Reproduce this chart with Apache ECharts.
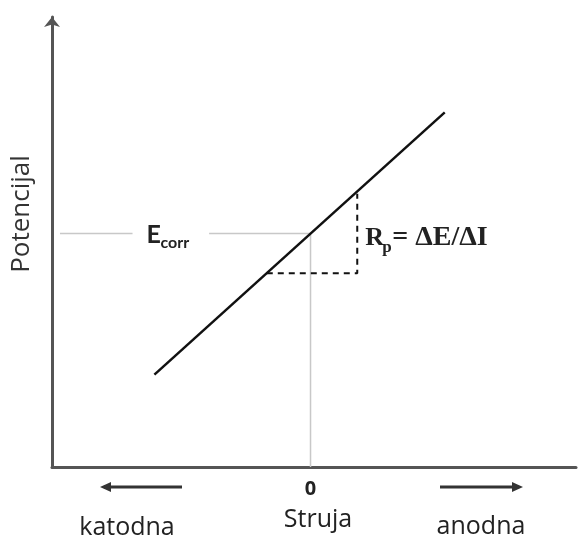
<!DOCTYPE html>
<html>
<head>
<meta charset="utf-8">
<script src="https://cdn.jsdelivr.net/npm/echarts@6/dist/echarts.min.js"></script>
<style>
  html, body { margin: 0; padding: 0; background: #fff; }
  #chart { width: 579px; height: 541px; }
</style>
</head>
<body>
<div id="chart"></div>
<script>
// schematic units: struja (x) and potencijal (y), E_corr at y = 0, I = 0 at x = 0
const xRange = [-260, 267];
const yRange = [-235, 218];
const xTickLabels = ["0"];

// polarizacijska krivulja
const curveI = [-157, 135];
const curveE = [-142, 122];

// E_corr reference lines (gray)
const ecorrLeftI = [-252, -179];
const ecorrRightI = [-102, 0];
const zeroLineE = [0, -235];

// Delta E / Delta I triangle (dashed)
const triI = [-44, 47, 47];
const triE = [-40, -40, 40];

const zip = (a, b) => a.map((v, i) => [v, b[i]]);

const chart = echarts.init(document.getElementById("chart"));

const gray = "#c8c8c8";

const option = {
  animation: false,
  grid: { left: 52, right: 0, top: 17, bottom: 74 },
  xAxis: {
    type: "value",
    min: xRange[0],
    max: xRange[1],
    interval: 260,
    axisLine: { show: true, onZero: false, lineStyle: { color: "#555", width: 3 } },
    axisTick: { show: false },
    splitLine: { show: false },
    axisLabel: {
      margin: 12,
      fontSize: 20,
      fontWeight: "bold",
      fontFamily: "Open Sans",
      color: "#222",
      formatter: v => (v === 0 ? xTickLabels[0] : "")
    },
    name: "Struja",
    nameLocation: "middle",
    nameGap: 40,
    nameTextStyle: { fontSize: 25, fontFamily: "Open Sans", color: "#222", padding: [0, 0, 0, 8] }
  },
  yAxis: {
    type: "value",
    min: yRange[0],
    max: yRange[1],
    axisLine: {
      show: true,
      onZero: false,
      symbol: ["none", "arrow"],
      symbolSize: [12, 10],
      lineStyle: { color: "#555", width: 3 }
    },
    axisTick: { show: false },
    splitLine: { show: false },
    axisLabel: { show: false }
  },
  series: [
    {
      type: "line",
      data: zip(ecorrLeftI, [0, 0]),
      symbol: "none",
      lineStyle: { color: gray, width: 1.5 },
      z: 1
    },
    {
      type: "line",
      data: zip(ecorrRightI, [0, 0]),
      symbol: "none",
      lineStyle: { color: gray, width: 1.5 },
      z: 1
    },
    {
      type: "line",
      data: zip([0, 0], zeroLineE),
      symbol: "none",
      lineStyle: { color: gray, width: 1.5 },
      z: 1
    },
    {
      type: "line",
      data: zip(triI, triE),
      symbol: "none",
      lineStyle: { color: "#111", width: 2, type: [6, 5] },
      z: 2
    },
    {
      type: "line",
      data: zip(curveI, curveE),
      symbol: "none",
      lineStyle: { color: "#111", width: 2.5 },
      z: 3
    }
  ]
};

chart.setOption(option);

const px = (x, y) => chart.convertToPixel({ gridIndex: 0 }, [x, y]);
const ec = px(-165, 0);
const rp = px(55, -5);
const axisY = px(0, yRange[0])[1];

const txt = (x, y, text, style) => ({
  type: "text",
  x, y,
  style: Object.assign({ text, fill: "#222", verticalAlign: "middle", align: "left" }, style)
});

const arrowHead = (x, y, dir) => ({
  type: "polygon",
  shape: { points: [[x, y], [x - dir * 11, y - 5], [x - dir * 11, y + 5]] },
  style: { fill: "#333" }
});

chart.setOption({
  graphic: [
    // E_corr
    txt(ec[0], ec[1] + 1, "E", { fontSize: 25, fontWeight: "bold", fontFamily: "Lato" }),
    txt(ec[0] + 14, ec[1] + 9, "corr", { fontSize: 16, fontWeight: "bold", fontFamily: "Lato" }),
    // R_p = dE/dI
    txt(rp[0], rp[1], "R", { fontSize: 26, fontWeight: "bold", fontFamily: "Liberation Serif" }),
    txt(rp[0] + 17, rp[1] + 9, "p", { fontSize: 17, fontWeight: "bold", fontFamily: "Liberation Serif" }),
    txt(rp[0] + 27, rp[1] - 1, "= \u0394E/\u0394I", { fontSize: 28, fontWeight: "bold", fontFamily: "Liberation Serif" }),
    // y axis name
    {
      type: "text",
      x: 22, y: 214,
      rotation: Math.PI / 2,
      style: { text: "Potencijal", fontSize: 26, fontFamily: "Open Sans", fill: "#333", align: "center", verticalAlign: "middle" }
    },
    // direction arrows
    { type: "line", shape: { x1: 104, y1: axisY + 20, x2: 182, y2: axisY + 20 }, style: { stroke: "#333", lineWidth: 3 } },
    arrowHead(100, axisY + 20, -1),
    { type: "line", shape: { x1: 440, y1: axisY + 20, x2: 514, y2: axisY + 20 }, style: { stroke: "#333", lineWidth: 3 } },
    arrowHead(523, axisY + 20, 1),
    txt(127, axisY + 61, "katodna", { fontSize: 25, fontFamily: "Open Sans", align: "center" }),
    txt(481, axisY + 60, "anodna", { fontSize: 25, fontFamily: "Open Sans", align: "center" })
  ]
});
</script>
</body>
</html>
